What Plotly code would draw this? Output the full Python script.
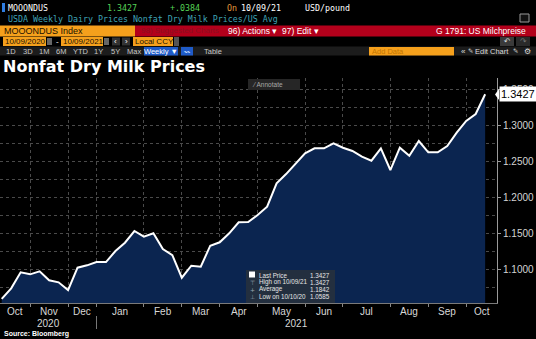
import plotly.graph_objects as go
import pandas as pd

W, H = 536, 339

# ---------------- data ----------------
week_dates = [d for d in pd.date_range("2020-10-10", "2021-10-09", freq="7D")
              if d != pd.Timestamp("2020-12-26")]
prices = [1.0585, 1.0732, 1.0954, 1.0926, 1.0968, 1.0843, 1.0815, 1.0708, 1.1018, 1.1051,
          1.1097, 1.1097, 1.1250, 1.1365, 1.1528, 1.1449, 1.1496, 1.1278, 1.1194, 1.0879,
          1.1046, 1.1032, 1.1324, 1.1371, 1.1496, 1.1649, 1.1653, 1.1750, 1.1865, 1.2190,
          1.2319, 1.2468, 1.2607, 1.2676, 1.2676, 1.2746, 1.2685, 1.2639, 1.2560, 1.2504,
          1.2676, 1.2375, 1.2685, 1.2574, 1.2778, 1.2621, 1.2621, 1.2708, 1.2893, 1.3056,
          1.3153, 1.3427]
y_tick_values = [1.10, 1.15, 1.20, 1.25, 1.30, 1.35]
y_tick_labels = ["1.1000", "1.1500", "1.2000", "1.2500", "1.3000", "1.3500"]
last_price_label = "1.3427"
change_label = "+.0384"
legend_rows = [("Last Price", "1.3427"), ("High on 10/09/21", "1.3427"),
               ("Average", "1.1842"), ("Low on 10/10/20", "1.0585")]

# ---------------- helpers ----------------
def px(x):
    return x / W

def py(y):
    return 1 - y / H

shapes = []
annos = []

def rect(x0, y0, x1, y1, color, line=None, layer="above"):
    shapes.append(dict(type="rect", xref="paper", yref="paper",
                       x0=px(x0), x1=px(x1), y0=py(y1), y1=py(y0),
                       fillcolor=color, line=dict(width=1 if line else 0, color=line or color),
                       layer=layer))

def text(x, y, s, size=8.3, color="white", family="DejaVu Sans Mono", anchor="left"):
    annos.append(dict(xref="paper", yref="paper", x=px(x), y=py(y), text=s,
                      showarrow=False, xanchor=anchor, yanchor="middle",
                      font=dict(size=size, color=color, family=family), borderpad=0))

SANS = "Liberation Sans"
MONO = "DejaVu Sans Mono"
ORANGE = "#f5a01c"

# ---------------- header ----------------
rect(2, 3, 5, 12, "#2f7de1")
text(7, 7.5, "MOOONDUS")
text(106, 7.5, "1.3427", color="#56d256")
text(169, 7.5, change_label, color="#56d256")
text(226, 7.5, "On", color="#e39a3c")
text(240, 7.5, "10/09/21")
text(304, 7.5, "USD/pound")
text(7, 18.5, "USDA Weekly Dairy Prices Nonfat Dry Milk Prices/US Avg", color="#3fa3b6")
rect(520, 14, 529, 22, "#111111", line="#9a9a9a")

rect(0, 25.5, 135, 36.5, ORANGE)
text(3, 31, "MOOONDUS Index", size=9, color="#1a1000", family=SANS)
rect(135, 25.5, 536, 36.5, "#b3001b")
text(140, 31, "98) Suggested Charts", size=8, color="#8a1020", family=SANS)
text(227, 31, "96) Actions ▾", size=8.5, family=SANS)
text(281, 31, "97) Edit ▾", size=8.5, family=SANS)
text(527, 31, "G 1791: US Milchpreise", size=8.5, family=SANS, anchor="right")

rect(3, 37, 46, 46, ORANGE)
text(4, 41.5, "10/09/2020", size=8, color="#1a1000", family=SANS)
rect(47, 38, 52, 45, "#666666")
text(55, 41.5, "-", size=8, family=SANS)
rect(61, 37, 103, 46, ORANGE)
text(62, 41.5, "10/09/2021", size=8, color="#1a1000", family=SANS)
rect(104, 38, 109, 45, "#666666")
rect(112, 37.5, 120, 45.5, "#333333")
text(116, 41.5, "‹", size=8, family=SANS, anchor="center")
rect(122, 37.5, 130, 45.5, "#333333")
text(126, 41.5, "›", size=8, family=SANS, anchor="center")
rect(133, 37, 173, 46, ORANGE)
text(134, 41.5, "Local CCY", size=8, color="#1a1000", family=SANS)
rect(174, 37, 179, 46, "#555555")
rect(500, 37, 514, 46, "#3a3a3a")
text(507, 41.5, "↶", size=8, color="#dddddd", family="DejaVu Sans", anchor="center")
rect(516, 37, 530, 46, "#2a2a2a")
text(523, 41.5, "↷", size=8, color="#777777", family="DejaVu Sans", anchor="center")

rect(0, 46.5, 536, 55.5, "#1c1c1c")
for lab, cx in [("1D", 11), ("3D", 28), ("1M", 44), ("6M", 61), ("YTD", 81),
                ("1Y", 98), ("5Y", 115), ("Max", 134)]:
    text(cx, 51, lab, size=7.5, color="#c8c8c8", family=SANS, anchor="center")
rect(144, 47, 178, 55.5, "#1f5bc8")
text(161, 51, "Weekly ▼", size=7.5, family=SANS, anchor="center")
rect(181, 47, 193, 55.5, "#1f5bc8")
text(187, 51, "〰", size=6, color="#cfe0ff", family="DejaVu Sans", anchor="center")
text(203, 51, "Table", size=7.5, color="#c8c8c8", family=SANS)
rect(369, 47, 454, 55.5, ORANGE)
text(371, 51, "Add Data", size=7.5, color="#c27400", family=SANS)
text(460, 51, "«", size=8, color="#dddddd", family=SANS)
text(467, 51, "✎", size=6.5, color="#dddddd", family="DejaVu Sans")
text(474, 51, "Edit Chart", size=7.5, color="#dddddd", family=SANS)
text(512, 51, "✎", size=6.5, color="#dddddd", family="DejaVu Sans")
text(523, 51, "⚙", size=8, color="#dddddd", family="DejaVu Sans")

text(2, 66.5, "<b>Nonfat Dry Milk Prices</b>", size=16, family="DejaVu Sans")

# ---------------- chart geometry ----------------
X0, X1 = -0.18, 52.25
idx = list(range(len(prices)))
boundaries = [i for i in range(len(week_dates) - 1)
              if week_dates[i + 1].month != week_dates[i].month]
year_breaks = [i for i in range(len(week_dates) - 1)
               if week_dates[i + 1].year != week_dates[i].year]

edges = [X0] + boundaries + [X1]
for k in range(len(edges) - 1):
    first = 0 if k == 0 else boundaries[k - 1] + 1
    annos.append(dict(xref="x", yref="paper", x=(edges[k] + edges[k + 1]) / 2, y=py(311),
                      text=week_dates[first].strftime("%b"), showarrow=False,
                      xanchor="center", yanchor="middle",
                      font=dict(size=10, color="#d8d8d8", family=SANS)))
yedges = [X0] + year_breaks + [X1]
for k in range(len(yedges) - 1):
    first = 0 if k == 0 else year_breaks[k - 1] + 1
    annos.append(dict(xref="x", yref="paper", x=(yedges[k] + yedges[k + 1]) / 2, y=py(323.5),
                      text=str(week_dates[first].year), showarrow=False,
                      xanchor="center", yanchor="middle",
                      font=dict(size=10, color="#d8d8d8", family=SANS)))
for b in year_breaks:
    shapes.append(dict(type="line", xref="x", yref="paper", x0=b, x1=b,
                       y0=py(316), y1=py(329), line=dict(color="#777777", width=1)))

# Annotate button
rect(248, 79, 300, 90, "#262626")
text(251, 84.5, "⁄ Annotate", size=6.5, color="#a8a8a8", family=SANS)

# legend box
rect(246, 270, 335, 303, "rgba(38,48,62,0.92)")
rect(249, 271.5, 255, 277.5, "#ffffff")
symbols = ["", "⊤", "+", "⊥"]
for r, (lab, val) in enumerate(legend_rows):
    yy = 275 + r * 7.2
    if symbols[r]:
        text(252, yy, symbols[r], size=6, color="#9aa4b0", family="DejaVu Sans", anchor="center")
    text(258, yy, lab, size=6.3, color="#e6e6e6", family=SANS)
    text(331, yy, val, size=6.3, color="#e6e6e6", family=SANS, anchor="right")

# last price tag
shapes.append(dict(type="path", xref="paper", yref="paper",
                   path=f"M {px(495)} {py(94.5)} L {px(499)} {py(89)} L {px(499)} {py(100)} Z",
                   fillcolor="white", line=dict(width=0)))
annos.append(dict(xref="paper", yref="y", x=px(499), y=prices[-1], text=last_price_label,
                  showarrow=False, xanchor="left", yanchor="middle", bgcolor="white",
                  borderpad=1, font=dict(size=11, color="#000000", family=SANS)))

# footer
text(3, 334, "<b>Source: Bloomberg</b>", size=7, family=SANS)

# ---------------- figure ----------------
fig = go.Figure()
fig.add_trace(go.Scatter(x=idx, y=prices, mode="lines", fill="tozeroy",
                         fillcolor="#0b2550", line=dict(color="white", width=2),
                         hoverinfo="skip"))

GRID = "#4a4a4a"
fig.update_layout(
    width=W, height=H, margin=dict(l=0, r=0, t=0, b=0),
    paper_bgcolor="black", plot_bgcolor="black", showlegend=False,
    xaxis=dict(domain=[0, px(497)], range=[X0, X1], tickvals=boundaries,
               showticklabels=False, ticks="outside", ticklen=3, tickcolor="#888888",
               showgrid=True, gridcolor=GRID, griddash="dot", gridwidth=1,
               showline=True, linecolor="#7a7a7a", linewidth=1, zeroline=False,
               fixedrange=True),
    yaxis=dict(domain=[py(303), py(78)], range=[1.0528, 1.3653], side="right",
               tickvals=y_tick_values, ticktext=y_tick_labels,
               ticks="outside", ticklen=3, tickcolor="#999999",
               tickfont=dict(size=10, color="#d4d4d4", family=SANS),
               showgrid=True, gridcolor=GRID, griddash="dot", gridwidth=1,
               minor=dict(dtick=0.025, tick0=1.0, showgrid=True, gridcolor=GRID,
                          griddash="dot", ticks=""),
               showline=True, linecolor="#9a9a9a", linewidth=1, zeroline=False,
               fixedrange=True),
    shapes=shapes, annotations=annos,
)

fig.write_html("out.html")
